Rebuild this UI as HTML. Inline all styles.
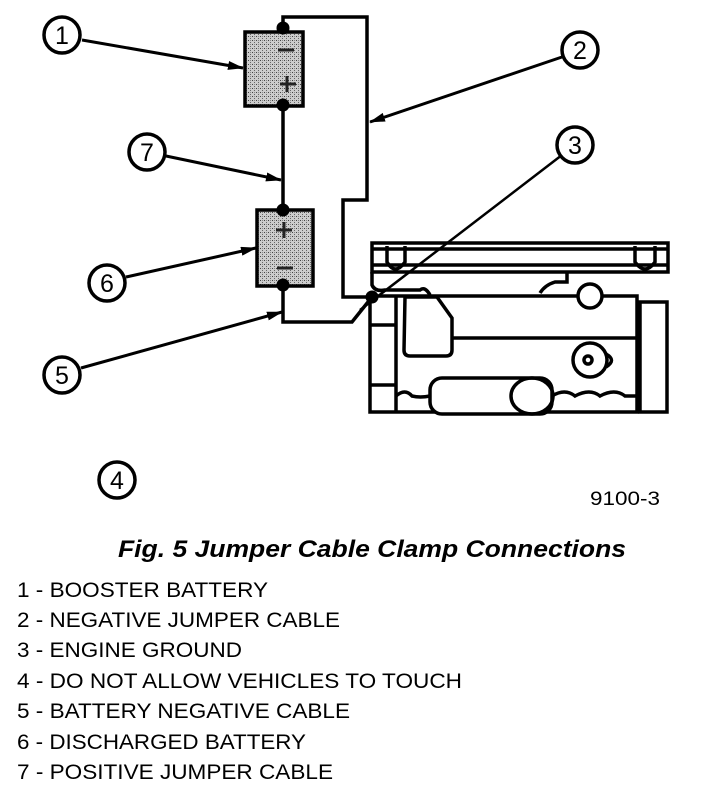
<!DOCTYPE html>
<html><head><style>body{margin:0;background:#fff}svg{display:block}</style></head><body>
<svg width="704" height="790" viewBox="0 0 704 790" xmlns="http://www.w3.org/2000/svg" font-family="Liberation Sans, sans-serif">
<defs>
<pattern id="dots" width="4" height="4" patternUnits="userSpaceOnUse"><rect width="4" height="4" fill="#ccc"/><rect width="1" height="1" fill="#444"/><rect x="2" y="2" width="1" height="1" fill="#666"/><rect x="2" y="0" width="1" height="1" fill="#888"/></pattern>
<marker id="ah" markerWidth="16" markerHeight="9" refX="15" refY="4.5" orient="auto" markerUnits="userSpaceOnUse"><path d="M0,0 L16,4.5 L0,9z" fill="#000"/></marker>
</defs>
<g stroke="#000" stroke-width="3.5" fill="none">
<path d="M283,28 V17 H367 V200 H343 V297 H372"/>
<path d="M283,105 V210"/>
<path d="M283,285 V322 H352 L372,297"/>
</g>
<rect x="245" y="32" width="58" height="74" fill="url(#dots)" stroke="#000" stroke-width="3.5"/>
<rect x="257" y="210" width="56" height="76" fill="url(#dots)" stroke="#000" stroke-width="3.5"/>
<g stroke="#222" stroke-width="3"><path d="M278,50h16M280,84h16M287,76v16M276,230h16M284,222v16M277,268h16"/></g>
<g fill="#000"><circle cx="283" cy="28" r="6.5"/><circle cx="283" cy="105" r="6.5"/><circle cx="283" cy="210" r="6.5"/><circle cx="283" cy="285" r="6.5"/><circle cx="372" cy="297" r="6.5"/></g>
<g stroke="#000" stroke-width="3.5" fill="none">
<path d="M372,243 H668 V272 H372 Z"/>
<path d="M372,249 H668 M372,265 H668"/>
<path d="M387,246 V262 Q395,276 405,262 V246 M635,246 V262 Q645,276 655,262 V246"/>
<path d="M372,272 V285 Q375,292 385,290 H420 Q425,286 430,295"/>
<path d="M567,272 V282 H555 Q545,285 540,293"/>
<path d="M370,296 H637 V412 H370 Z"/>
<path d="M396,296 V412 M370,325 H396 M370,385 H396"/>
<path d="M640,302 H667 V412 H640 Z"/>
<path d="M405,297 H437 L452,318 V350 Q452,356 446,356 H410 Q404,356 404,350 Z"/>
<path d="M452,338 H637"/>
<circle cx="590" cy="296" r="12" fill="#fff"/>
<circle cx="590" cy="360" r="17"/><circle cx="588" cy="360" r="4"/>
<path d="M606,354 Q617,360 606,367"/>
<rect x="430" y="378" width="122" height="36" rx="12" fill="#fff"/>
<ellipse cx="532" cy="396" rx="21" ry="18"/>
<path d="M396,396 Q405,388 412,396 Q420,398 430,396 M552,396 Q565,388 575,396 Q590,388 600,396 Q615,388 625,396 H637"/>
</g>
<line x1="575" y1="145" x2="360" y2="310" stroke="#000" stroke-width="2.5"/>
<g stroke="#000" stroke-width="3.5" fill="#fff">
<circle cx="62" cy="35" r="18"/><circle cx="580" cy="50" r="18"/><circle cx="575" cy="145" r="18"/>
<circle cx="147" cy="152" r="18"/><circle cx="107" cy="283" r="18"/><circle cx="62" cy="375" r="18"/><circle cx="117" cy="480" r="18"/>
</g>
<g stroke="#000" stroke-width="3" marker-end="url(#ah)">
<line x1="82" y1="40" x2="243" y2="68"/>
<line x1="562" y1="57" x2="370" y2="122"/>
<line x1="166" y1="156" x2="281" y2="180"/>
<line x1="126" y1="277" x2="256" y2="248"/>
<line x1="81" y1="368" x2="282" y2="312"/>
</g>
<g font-size="25" text-anchor="middle">
<text x="62" y="44">1</text><text x="580" y="59">2</text><text x="575" y="154">3</text>
<text x="147" y="161">7</text><text x="107" y="292">6</text><text x="62" y="384">5</text><text x="117" y="489">4</text>
</g>
<text x="590" y="505" font-size="19" textLength="70" lengthAdjust="spacingAndGlyphs">9100-3</text>
<text x="118" y="557" font-size="24" font-weight="bold" font-style="italic" textLength="508" lengthAdjust="spacingAndGlyphs">Fig. 5 Jumper Cable Clamp Connections</text>
<g font-size="21" lengthAdjust="spacingAndGlyphs">
<text x="17" y="597" textLength="251" lengthAdjust="spacingAndGlyphs">1 - BOOSTER BATTERY</text>
<text x="17" y="627" textLength="323" lengthAdjust="spacingAndGlyphs">2 - NEGATIVE JUMPER CABLE</text>
<text x="17" y="657" textLength="225" lengthAdjust="spacingAndGlyphs">3 - ENGINE GROUND</text>
<text x="17" y="688" textLength="445" lengthAdjust="spacingAndGlyphs">4 - DO NOT ALLOW VEHICLES TO TOUCH</text>
<text x="17" y="718" textLength="333" lengthAdjust="spacingAndGlyphs">5 - BATTERY NEGATIVE CABLE</text>
<text x="17" y="749" textLength="289" lengthAdjust="spacingAndGlyphs">6 - DISCHARGED BATTERY</text>
<text x="17" y="779" textLength="316" lengthAdjust="spacingAndGlyphs">7 - POSITIVE JUMPER CABLE</text>
</g>
</svg>
</body></html>
